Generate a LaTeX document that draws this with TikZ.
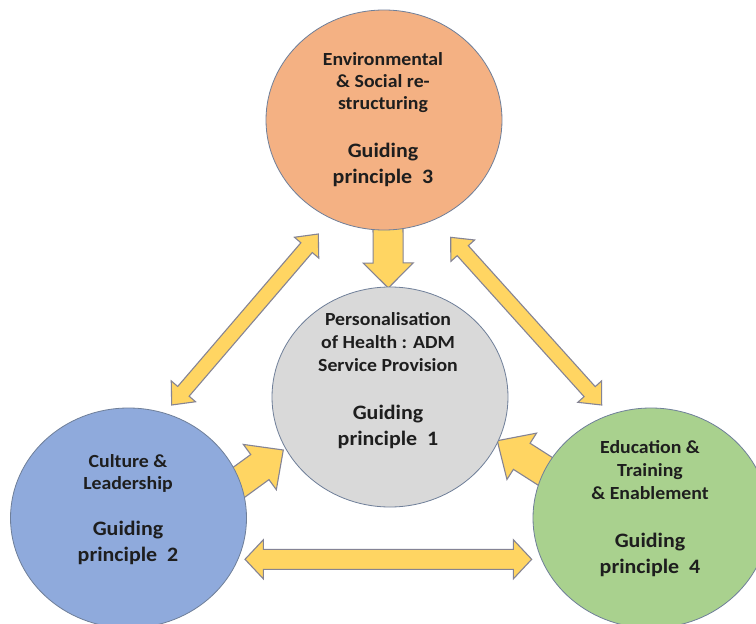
\documentclass[tikz,border=0pt]{standalone}
\usepackage{fontspec}
\setmainfont{Carlito}[FakeStretch=1.07]
\usetikzlibrary{calc,shapes.geometric}
\definecolor{orfill}{HTML}{F4B183}
\definecolor{grfill}{HTML}{D9D9D9}
\definecolor{blfill}{HTML}{8FAADC}
\definecolor{gnfill}{HTML}{A9D18E}
\definecolor{edge}{HTML}{6F7F99}
\definecolor{arrfill}{HTML}{FFD562}
\definecolor{arrdraw}{HTML}{858494}
\definecolor{txt}{HTML}{1E1E1E}
\newcommand\fatsingle[6]{%
  \coordinate (#6h) at ($(#2)!#5!(#1)$);
  \draw[blockarr] ($(#1)!#3!90:(#2)$) -- ($(#6h)!#3!-90:(#1)$) -- ($(#6h)!#4!-90:(#1)$) -- (#2)
    -- ($(#6h)!#4!90:(#1)$) -- ($(#6h)!#3!90:(#1)$) -- ($(#1)!#3!-90:(#2)$) -- cycle;}
\newcommand\fatdouble[6]{%
  \coordinate (#6p) at ($(#1)!#5!(#2)$);
  \coordinate (#6q) at ($(#2)!#5!(#1)$);
  \draw[blockarr] (#1) -- ($(#6p)!#4!90:(#2)$) -- ($(#6p)!#3!90:(#2)$) -- ($(#6q)!#3!-90:(#1)$)
    -- ($(#6q)!#4!-90:(#1)$) -- (#2) -- ($(#6q)!#4!90:(#1)$) -- ($(#6q)!#3!90:(#1)$)
    -- ($(#6p)!#3!-90:(#2)$) -- ($(#6p)!#4!-90:(#2)$) -- cycle;}
\begin{document}
\begin{tikzpicture}[x=1pt,y=-1pt,
  circ/.style={ellipse, draw=edge, line width=0.8pt, minimum width=236pt, minimum height=220pt, inner sep=0pt},
  small/.style={font=\bfseries\fontsize{18.5}{22}\selectfont, anchor=base, inner sep=0pt, text=txt},
  big/.style={font=\bfseries\fontsize{20.5}{26}\selectfont, anchor=base, inner sep=0pt, text=txt},
  blockarr/.style={fill=arrfill, draw=arrdraw, line width=1.1pt, line join=miter}]
\clip (0,0) rectangle (756,624);
\fill[white] (0,0) rectangle (756,624);
% arrow end points
\coordinate (dnA) at (388,222);
\coordinate (dnB) at (388.3,288);
\coordinate (ldA) at (171.7,405);
\coordinate (ldB) at (318.3,234);
\coordinate (rdA) at (450.7,237.3);
\coordinate (rdB) at (601.7,405);
\coordinate (blA) at (226.7,491.2);
\coordinate (blB) at (283.3,450);
\coordinate (gnA) at (560.4,481);
\coordinate (gnB) at (497.3,440.7);
\coordinate (hzA) at (245,559.3);
\coordinate (hzB) at (531.7,559.3);
% arrows
\fatsingle{dnA}{dnB}{15pt}{25pt}{25pt}{dn}
\fatdouble{ldA}{ldB}{7.5pt}{16pt}{18pt}{ld}
\fatdouble{rdA}{rdB}{7.5pt}{16pt}{18pt}{rd}
\fatsingle{blA}{blB}{15.5pt}{28pt}{29pt}{bl}
\fatsingle{gnA}{gnB}{15.5pt}{27.5pt}{29pt}{gn}
\fatdouble{hzA}{hzB}{10pt}{19.5pt}{18.3pt}{hz}
% circles
\node[circ, fill=orfill] (c3) at (384,120) {};
\node[circ, fill=grfill] (c1) at (390,397) {};
\node[circ, fill=blfill] (c2) at (128.5,518) {};
\node[circ, fill=gnfill] (c4) at (651,518) {};
% texts
\node[small] (t3a) at (383,65) {Environmental};
\node[small] (t3b) at (383,87) {\& Social re-};
\node[small] (t3c) at (383,109) {structuring};
\node[big] (t3d) at (383,157) {Guiding};
\node[big] (t3e) at (383,183) {principle\ \ 3};
\node[small] (t1a) at (388,325) {Personalisation};
\node[small] (t1b) at (388,348) {of Health : ADM};
\node[small] (t1c) at (388,371) {Service Provision};
\node[big] (t1d) at (388,419) {Guiding};
\node[big] (t1e) at (388,445) {principle\ \ 1};
\node[small] (t2a) at (128,467) {Culture \&};
\node[small] (t2b) at (128,489) {Leadership};
\node[big] (t2d) at (128,535) {Guiding};
\node[big] (t2e) at (128,561) {principle\ \ 2};
\node[small] (t4a) at (650,453) {Education \&};
\node[small] (t4b) at (650,476) {Training};
\node[small] (t4c) at (650,499) {\& Enablement};
\node[big] (t4d) at (650,547) {Guiding};
\node[big] (t4e) at (650,573) {principle\ \ 4};
\end{tikzpicture}
\end{document}
